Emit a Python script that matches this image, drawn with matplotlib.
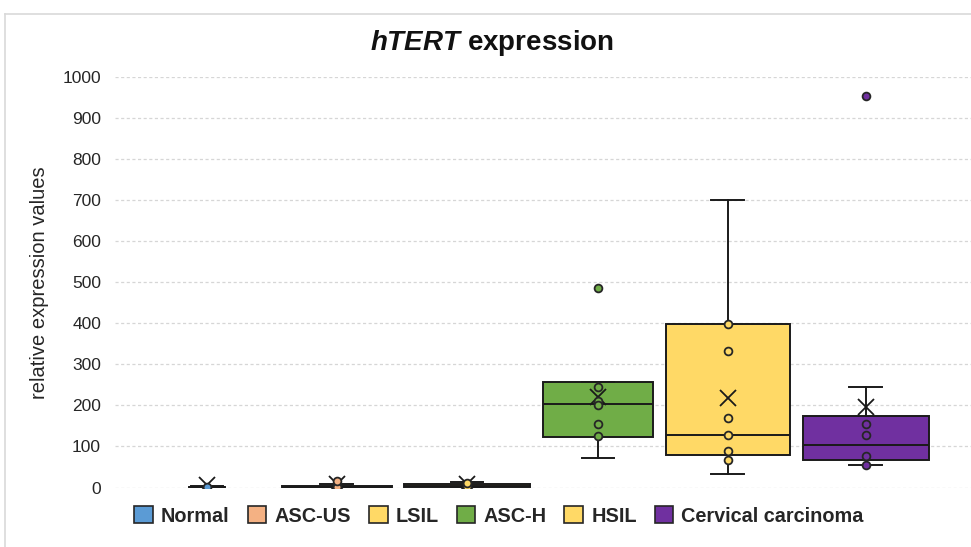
import matplotlib
matplotlib.use("Agg")
import matplotlib.pyplot as plt
from matplotlib.patches import Patch
from matplotlib.lines import Line2D

plt.rcParams['font.family'] = ['Liberation Sans', 'DejaVu Sans']
plt.rcParams['mathtext.fontset'] = 'custom'
plt.rcParams['mathtext.it'] = 'Liberation Sans:italic:bold'
plt.rcParams['mathtext.rm'] = 'Liberation Sans:bold'

# ---- data -------------------------------------------------------------
groups = ["Normal", "ASC-US", "LSIL", "ASC-H", "HSIL", "Cervical carcinoma"]
colors = ["#5B9BD5", "#F4B183", "#FFD966", "#70AD47", "#FFD966", "#7030A0"]

q1 = [0, 1, 1, 124, 80, 67]
median = [1, 2, 3, 203, 129, 104]
q3 = [2, 4, 8, 257, 398, 173]
whisker_low = [0, 0, 0, 71, 33, 54]
whisker_high = [4, 8, 13, 257, 700, 245]
mean = [6, 9, 9, 220, 218, 196]

inner_points = [
    [1],
    [1, 15],
    [1, 12],
    [245, 210, 202, 154, 125],
    [398, 332, 170, 129, 89, 68],
    [154, 129, 76, 54],
]
outliers = [[], [], [], [485], [], [954]]

y_ticks = [0, 100, 200, 300, 400, 500, 600, 700, 800, 900, 1000]

# ---- layout -------------------------------------------------------------
positions = [0, 0.986, 1.973, 2.967, 3.953, 5.0]
box_widths = [0.28, 0.84, 0.95, 0.835, 0.935, 0.95]

fig = plt.figure(figsize=(9.71, 5.47), dpi=100)
fig.patch.set_facecolor("white")
ax = fig.add_axes([115 / 971, (547 - 487.5) / 547, 856 / 971, 410.5 / 547])

stats = []
for i, g in enumerate(groups):
    stats.append(dict(label=g, q1=q1[i], med=median[i], q3=q3[i],
                      whislo=whisker_low[i], whishi=whisker_high[i],
                      mean=mean[i], fliers=[]))

bp = ax.bxp(stats, positions=positions, widths=box_widths,
            capwidths=[0.25] * len(groups), patch_artist=True,
            showmeans=True, showfliers=False, zorder=3,
            boxprops=dict(edgecolor="#1a1a1a", linewidth=1.4),
            medianprops=dict(color="#1a1a1a", linewidth=1.4),
            whiskerprops=dict(color="#1a1a1a", linewidth=1.4),
            capprops=dict(color="#1a1a1a", linewidth=1.4),
            meanprops=dict(marker="x", markeredgecolor="#1a1a1a",
                           markersize=11, markeredgewidth=1.3))
for patch, c in zip(bp["boxes"], colors):
    patch.set_facecolor(c)

for i in range(len(groups)):
    pts = inner_points[i] + outliers[i]
    ax.plot([positions[i]] * len(pts), pts, linestyle="none", marker="o",
            markersize=5.6, markerfacecolor=colors[i],
            markeredgecolor="#262626", markeredgewidth=1.3, zorder=4)

ax.set_xlim(-0.698, 5.797)
ax.set_ylim(0, 1000)
ax.set_yticks(y_ticks)
ax.set_xticks([])
ax.tick_params(axis="y", length=0, pad=10, labelsize=12.5, labelcolor="#262626")
ax.yaxis.grid(True, color="#D6D6D6", linestyle=(0, (2.5, 2)), linewidth=0.9)
ax.set_axisbelow(True)
for s in ax.spines.values():
    s.set_visible(False)

ax.set_ylabel("relative expression values", fontsize=14.5, color="#262626", labelpad=10)

fig.text(492 / 971, (547 - 43) / 547, r"$hTERT$ expression", ha="center", va="center",
         fontsize=20, fontweight="bold", color="#111111")

# chart frame
fig.add_artist(Line2D([5 / 971, 5 / 971], [0, (547 - 14) / 547], color="#D9D9D9",
                      linewidth=1.2, transform=fig.transFigure))
fig.add_artist(Line2D([5 / 971, 1], [(547 - 14) / 547] * 2, color="#D9D9D9",
                      linewidth=1.2, transform=fig.transFigure))

handles = [Patch(facecolor=c, edgecolor="#262626", linewidth=1.2) for c in colors]
fig.legend(handles, groups, loc="center", bbox_to_anchor=(499 / 971, (547 - 516) / 547),
           ncol=6, frameon=False, handlelength=0.95, handleheight=0.95,
           handletextpad=0.4, columnspacing=0.9,
           prop=dict(size=14.3, weight="bold"), labelcolor="#262626")

fig.savefig("out.png", dpi=100)
